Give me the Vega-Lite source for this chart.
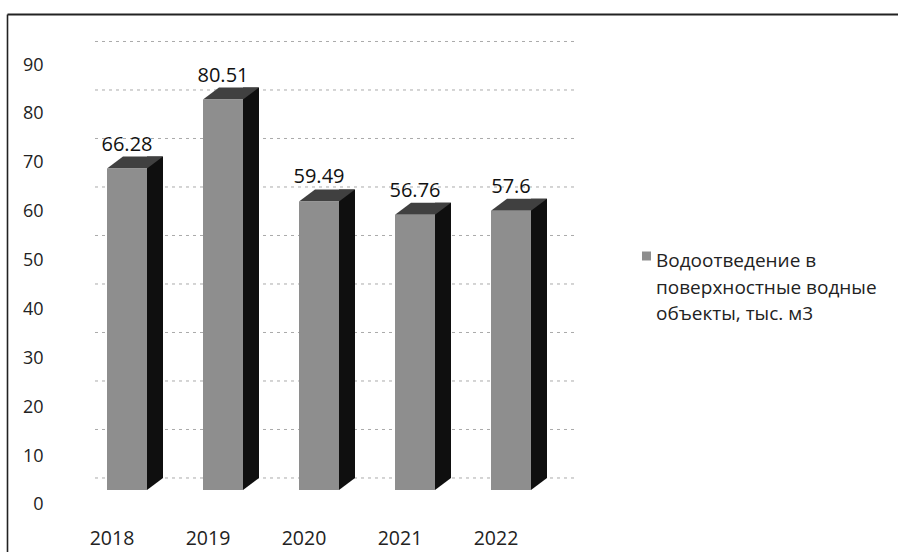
{
  "$schema": "https://vega.github.io/schema/vega-lite/v6.json",
  "width": 891,
  "height": 538,
  "padding": {"left": 7, "top": 14, "right": 0, "bottom": 0},
  "autosize": {"type": "none"},
  "background": "white",
  "config": {"view": {"stroke": null}, "font": "Open Sans"},
  "datasets": {
    "bars": [
      {"year": "2018", "value": 66.28, "series": "Водоотведение в\nповерхностные водные\nобъекты, тыс. м3"},
      {"year": "2019", "value": 80.51, "series": "Водоотведение в\nповерхностные водные\nобъекты, тыс. м3"},
      {"year": "2020", "value": 59.49, "series": "Водоотведение в\nповерхностные водные\nобъекты, тыс. м3"},
      {"year": "2021", "value": 56.76, "series": "Водоотведение в\nповерхностные водные\nобъекты, тыс. м3"},
      {"year": "2022", "value": 57.6, "series": "Водоотведение в\nповерхностные водные\nобъекты, тыс. м3"}
    ],
    "grid": [
      {"v": 0}, {"v": 10}, {"v": 20}, {"v": 30}, {"v": 40},
      {"v": 50}, {"v": 60}, {"v": 70}, {"v": 80}, {"v": 90}
    ]
  },
  "layer": [
    {
      "data": {"name": "bars"},
      "mark": {"type": "point", "opacity": 0},
      "encoding": {
        "x": {
          "field": "value", "type": "quantitative",
          "axis": {"orient": "top", "title": null, "labels": false, "ticks": false, "grid": false, "domain": true, "domainColor": "#222", "domainWidth": 1.8}
        },
        "y": {
          "field": "value", "type": "quantitative",
          "scale": {"domain": [-9.614, 100.432], "nice": false, "zero": false},
          "axis": {"orient": "left", "title": null, "domain": false, "ticks": false, "grid": false, "values": [0, 10, 20, 30, 40, 50, 60, 70, 80, 90], "labelPadding": 4, "offset": -40, "labelFont": "Open Sans", "labelFontSize": 18, "labelColor": "#222"}
        }
      }
    },
    {
      "data": {"name": "bars"},
      "encoding": {
        "x": {
          "field": "year", "type": "nominal",
          "scale": {"type": "band", "range": [57, 537], "paddingInner": 0, "paddingOuter": 0},
          "axis": {"orient": "bottom", "title": null, "domain": false, "ticks": false, "grid": false, "labelAngle": 0, "labelPadding": 4, "offset": -27, "labelFont": "Open Sans", "labelFontSize": 19.5, "labelColor": "#222"}
        },
        "y": {
          "field": "value", "type": "quantitative",
          "scale": {"domain": [-12.784, 98.144], "nice": false, "zero": false},
          "axis": {"orient": "left", "title": null, "labels": false, "ticks": false, "grid": false, "domain": true, "domainColor": "#222", "domainWidth": 1.6}
        }
      },
      "layer": [
        {
          "data": {"name": "grid"},
          "mark": {"type": "rule", "color": "#aaaaaa", "strokeWidth": 1, "strokeDash": [3, 4], "xOffset": -17, "x2Offset": 81, "yOffset": -12},
          "encoding": {
            "x": {"datum": "2018", "type": "nominal"},
            "x2": {"datum": "2022"},
            "y": {"field": "v", "type": "quantitative", "scale": {"domain": [-12.784, 98.144], "nice": false, "zero": false}}
          }
        },
        {
          "mark": {"type": "bar", "width": 16, "xOffset": 43, "yOffset": -12, "y2Offset": -12, "color": "#0f0f0f"},
          "encoding": {
            "y2": {"datum": 0}
          }
        },
        {
          "mark": {"type": "point", "shape": "M1,0L1.8,-0.6L1,-0.6Z", "size": 1600, "filled": true, "opacity": 1, "color": "#0f0f0f", "strokeWidth": 0, "xOffset": 15},
          "encoding": {
            "y": {"datum": 0, "type": "quantitative", "scale": {"domain": [-12.784, 98.144], "nice": false, "zero": false}}
          }
        },
        {
          "mark": {"type": "point", "shape": "M-1,0L1,0L1.8,-0.6L-0.2,-0.6Z", "size": 1600, "filled": true, "opacity": 1, "color": "#404040", "strokeWidth": 0, "xOffset": 15}
        },
        {
          "mark": {"type": "bar", "width": 40, "xOffset": 15},
          "encoding": {
            "y2": {"datum": 0},
            "color": {
              "field": "series", "type": "nominal",
              "scale": {"range": ["#8e8e8e"]},
              "legend": {
                "orient": "none", "legendX": 630, "legendY": 232.5, "title": null,
                "symbolType": "square", "symbolSize": 81, "symbolStrokeWidth": 0, "symbolOpacity": 1,
                "labelFont": "Open Sans", "labelFontSize": 19, "labelColor": "#222",
                "labelExpr": "split(datum.label, '\\n')", "labelLimit": 400, "labelBaseline": "top",
                "padding": 0, "labelOffset": 0,
                "encode": {
                  "labels": {"update": {"lineHeight": {"value": 26.5}, "dy": {"value": -4}}},
                  "symbols": {"update": {"fill": {"value": "#6e6e6e"}}}
                }
              }
            }
          }
        },
        {
          "mark": {"type": "text", "xOffset": 15, "dy": -18, "baseline": "alphabetic", "align": "center", "font": "Open Sans", "fontSize": 20, "color": "#111"},
          "encoding": {
            "text": {"field": "value", "type": "nominal"}
          }
        }
      ]
    }
  ],
  "resolve": {
    "scale": {"x": "independent", "y": "independent"},
    "axis": {"x": "independent", "y": "independent"}
  }
}
